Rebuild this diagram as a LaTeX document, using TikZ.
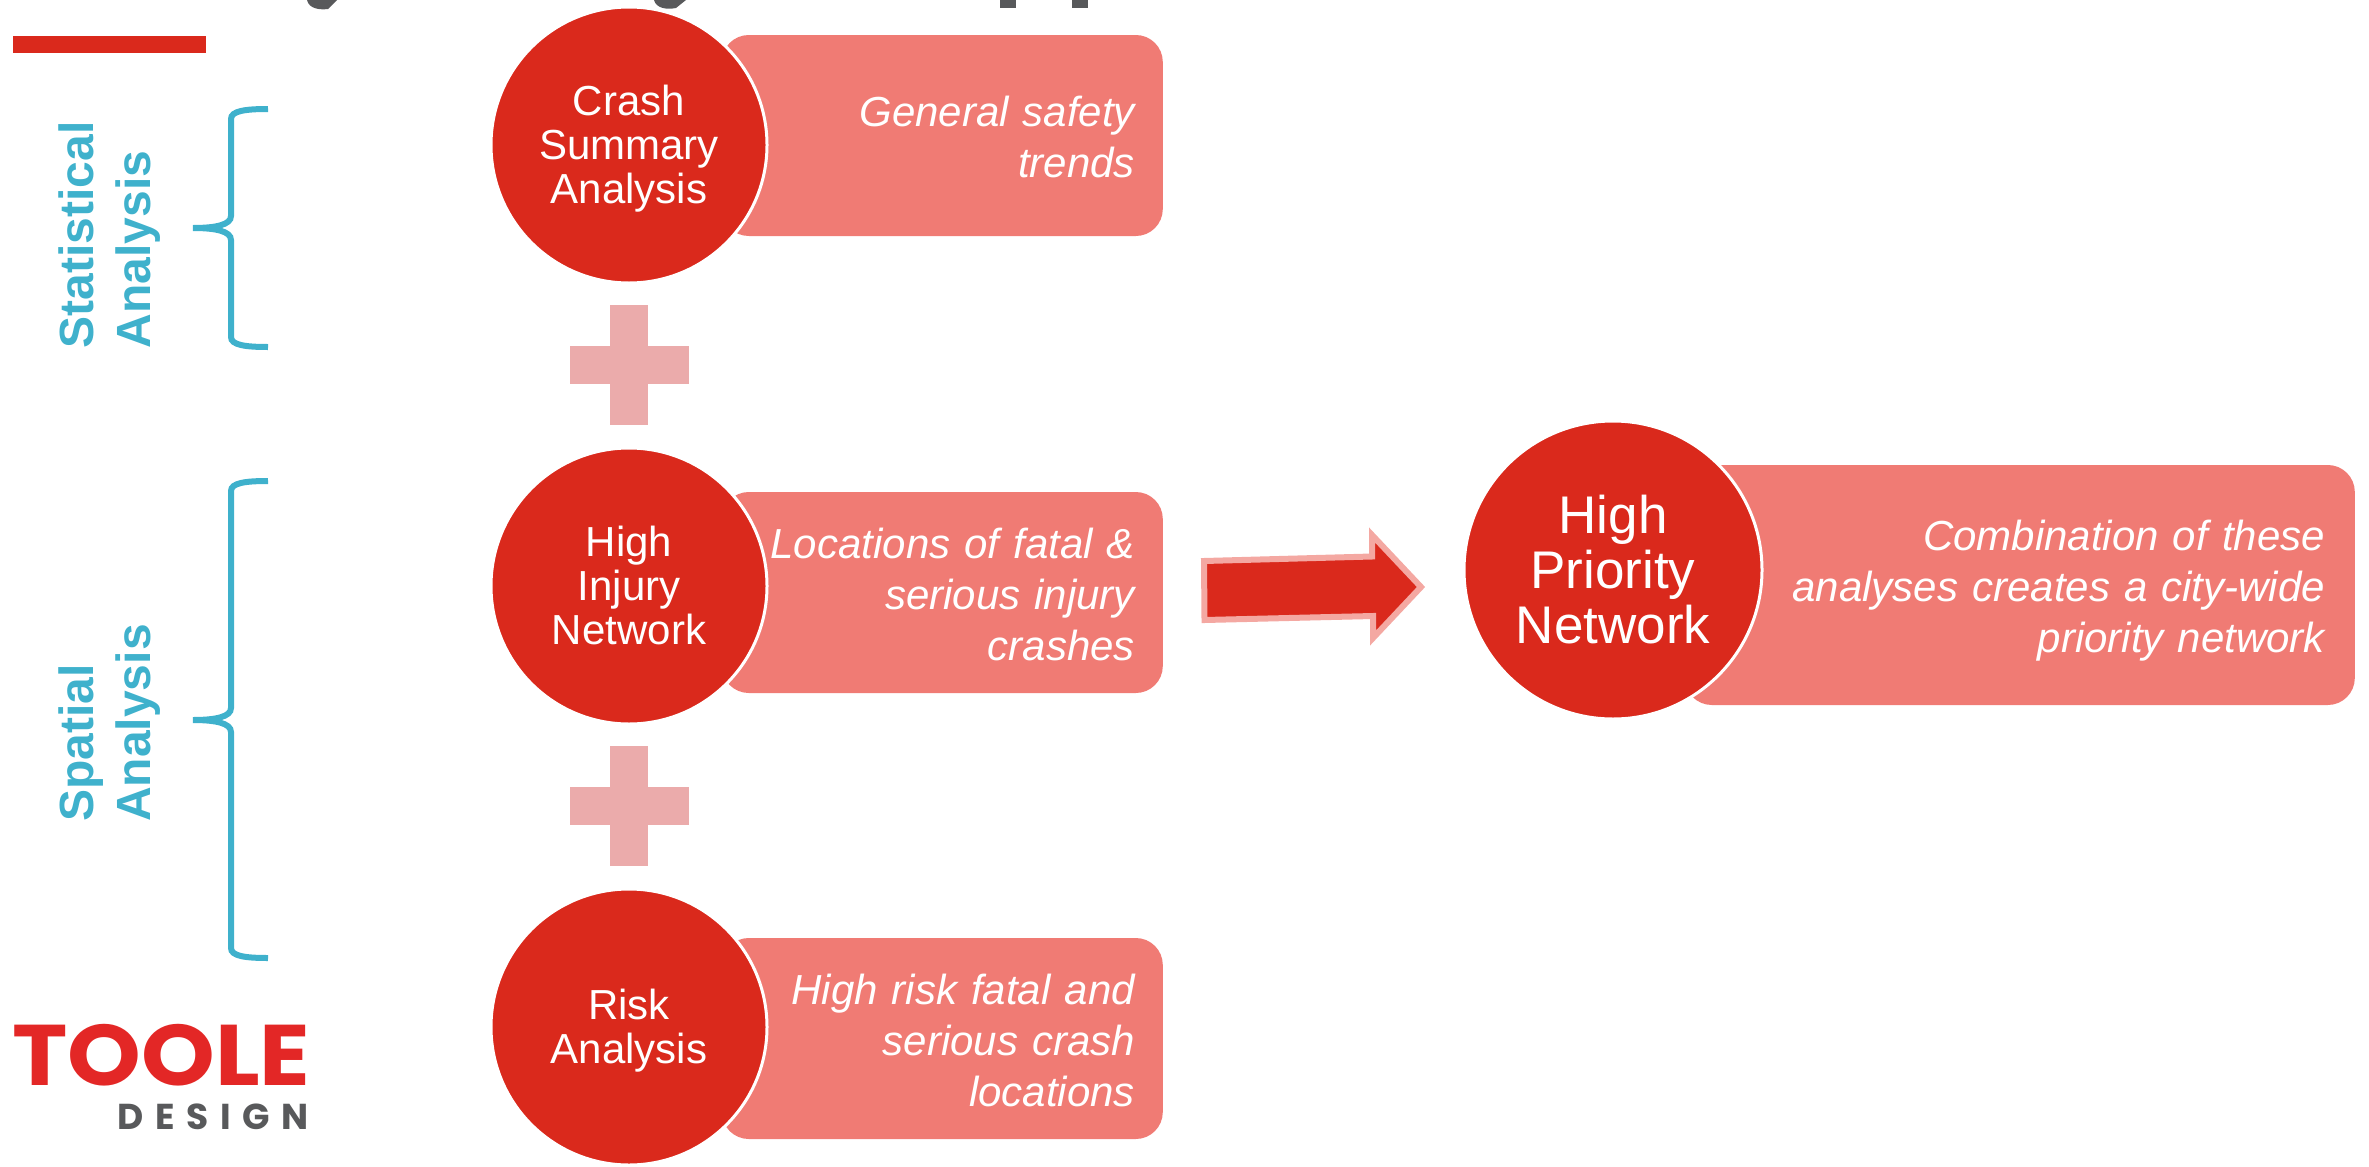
\documentclass[tikz,border=0pt]{standalone}
\usepackage{fontspec}
\setmainfont{Liberation Sans}
\newfontfamily\logofont{Poppins}
\definecolor{tdred}{HTML}{DA291C}
\definecolor{tdsalmon}{HTML}{F07B74}
\definecolor{tdplus}{HTML}{EBABAB}
\definecolor{tdedge}{HTML}{F4A8A2}
\definecolor{tdblue}{HTML}{3FB1CC}
\definecolor{tdlogo}{HTML}{E32726}
\definecolor{tdgrey}{HTML}{58595B}
\tikzset{
  bubble/.style={circle,fill=tdred,draw=white,line width=3pt,text=white,align=center,
    text width=200pt,minimum size=276pt,inner sep=0pt,font=\fontsize{42}{44}\selectfont,
    execute at begin node=\rule{0pt}{.9em},execute at end node=\rule[-.21em]{0pt}{.21em}},
  note/.style={fill=tdsalmon,rounded corners=27pt,text=white,align=right,anchor=east,
    inner xsep=28pt,inner ysep=0pt,font=\fontsize{42}{51}\selectfont\itshape,
    execute at begin node=\rule{0pt}{1.01em},execute at end node=\rule[-.21em]{0pt}{.21em}},
  group/.style={text=tdblue,rotate=90,align=left,font=\fontsize{48}{57}\selectfont\bfseries}
}
\begin{document}
\begin{tikzpicture}[x=1pt,y=-1pt]
  \useasboundingbox (0,0) rectangle (2369,1167);

  % Title rest and bar
  \fill[tdgrey] (307,0) .. controls (309,9) and (320,10) .. (328,9) -- (337,0) -- cycle;
  \fill[tdgrey] (654,0) .. controls (656,8) and (666,10) .. (676,8) -- (686,0) -- cycle;
  \fill[tdgrey] (1000,0) rectangle (1016,8);
  \fill[tdgrey] (1072,0) rectangle (1088,8);
  \fill[tdred] (13,36) rectangle (206,53);

  % Notes
  \node[note,text width=385pt,minimum height=201pt] (crashnote) at (1163,135.5) {General safety\\trends};
  \node[note,text width=385pt,minimum height=201pt] (injurynote) at (1163,592.5) {Locations of fatal \&\\serious injury\\crashes};
  \node[note,text width=385pt,minimum height=201pt] (risknote) at (1163,1038.5) {High risk fatal and\\serious crash\\locations};
  \node[note,text width=610pt,minimum height=240pt,inner xsep=30pt] (prioritynote) at (2355,585) {Combination of these\\analyses creates a city-wide\\priority network};

  % Circles
  \node[bubble] (crash) at (629,145) {Crash\\Summary\\Analysis};
  \node[bubble] (injury) at (629,586) {High\\Injury\\Network};
  \node[bubble] (risk) at (629,1027) {Risk\\Analysis};
  \node[bubble,text width=220pt,minimum size=298pt,font=\fontsize{53}{55}\selectfont] (priority) at (1613,570) {High\\Priority\\Network};

  % Plus signs
  \foreach \y in {365,806}
  {
    \fill[tdplus] (610,\y-60) rectangle (648,\y+60);
    \fill[tdplus] (570,\y-19) rectangle (689,\y+19);
  }

  % Arrow
  \draw[fill=tdred,draw=tdedge,line width=6pt,miter limit=10]
    (1204,561) -- (1372,556.5) -- (1372,535) -- (1421,587) -- (1373,638) -- (1373,616) -- (1204.5,620) -- cycle;

  % Braces
  \foreach \top/\tip/\bot in {109/228/347,481/720/958}
  {
    \draw[tdblue,line width=6pt]
      (268,\top) .. controls (245,\top) and (231,\top+2) .. (231,\top+10)
      -- (231,\tip-12) .. controls (231,\tip-3) and (215,\tip) .. (193,\tip)
      .. controls (215,\tip) and (231,\tip+3) .. (231,\tip+12)
      -- (231,\bot-10) .. controls (231,\bot-2) and (245,\bot) .. (268,\bot);
  }

  % Side labels
  \node[group] (statistical) at (110,235) {Statistical\\Analysis};
  \node[group] (spatial) at (110,723) {Spatial\\Analysis};

  % Logo
  \node[inner sep=0pt,text=tdlogo,font=\logofont\fontsize{86}{86}\selectfont\bfseries] (toole) at (161.5,1055) {\scalebox{1.09}[1]{TOOLE}};
  \node[inner sep=0pt,text=tdgrey,font=\logofont\fontsize{36}{36}\selectfont\bfseries\addfontfeature{LetterSpace=32}] (design) at (213,1117) {DESIGN};
\end{tikzpicture}
\end{document}
